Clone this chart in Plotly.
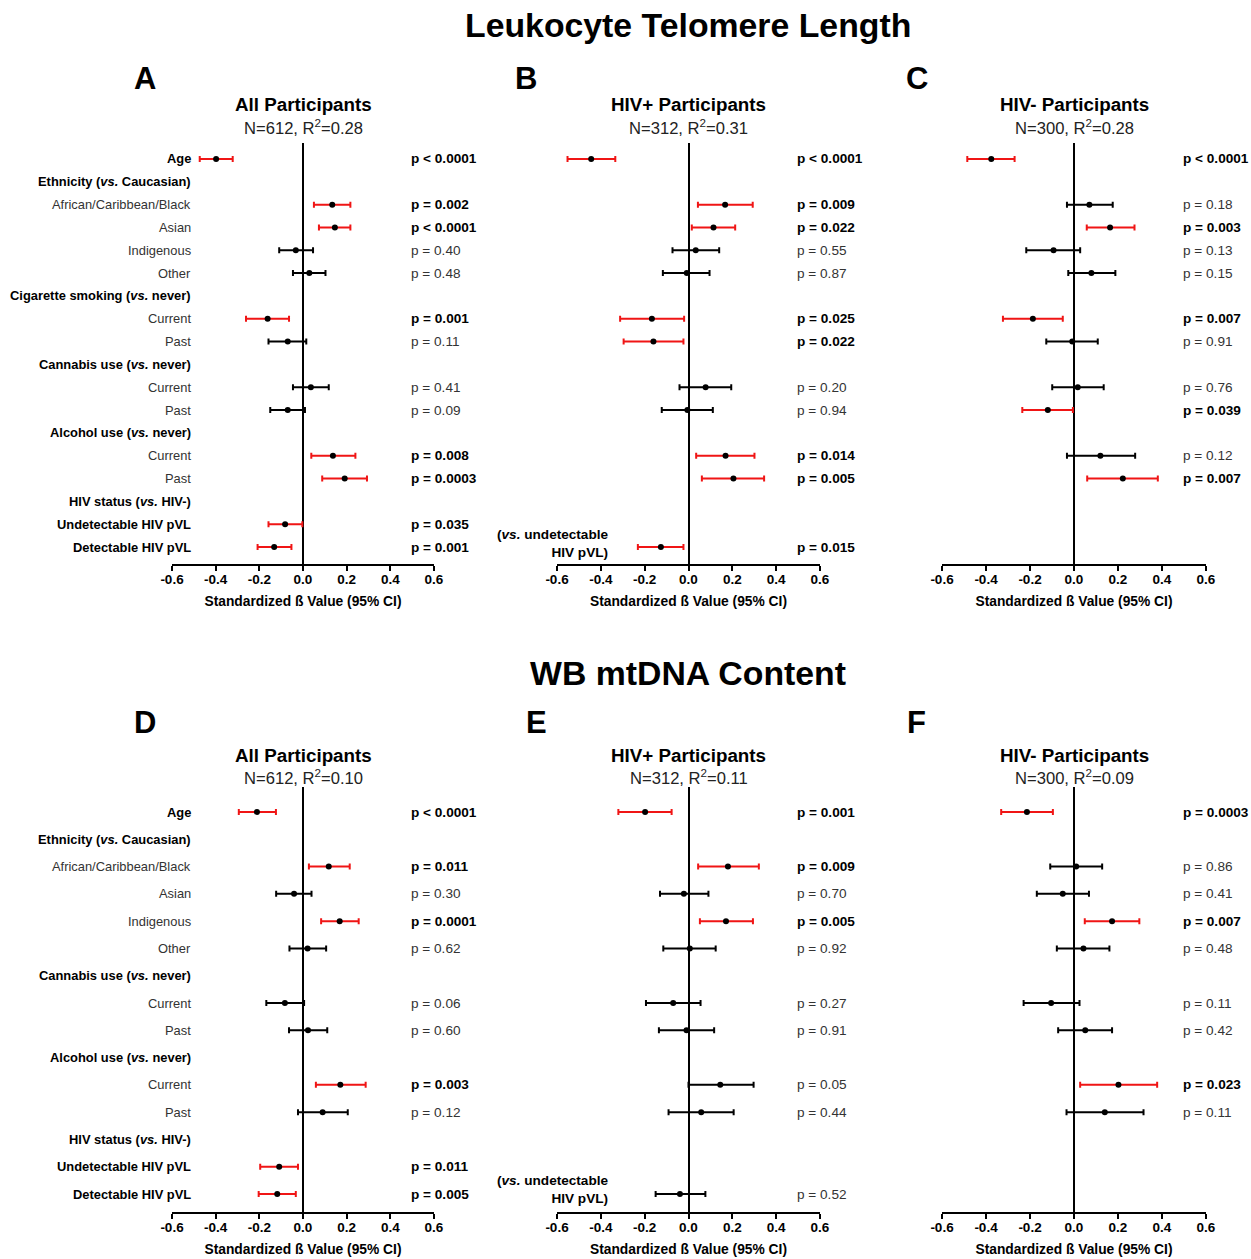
import plotly.graph_objects as go

FONT = "Liberation Sans, Arial, sans-serif"
W, H = 1251, 1259

# ---------------- Row labels ----------------
TOP_LABELS = ["Age", "Ethnicity (<i>vs.</i> Caucasian)", "African/Caribbean/Black", "Asian", "Indigenous", "Other",
              "Cigarette smoking (<i>vs.</i> never)", "Current", "Past",
              "Cannabis use (<i>vs.</i> never)", "Current", "Past",
              "Alcohol use (<i>vs.</i> never)", "Current", "Past",
              "HIV status (<i>vs.</i> HIV-)", "Undetectable HIV pVL", "Detectable HIV pVL"]
TOP_BOLD = [1, 1, 0, 0, 0, 0, 1, 0, 0, 1, 0, 0, 1, 0, 0, 1, 1, 1]

BOT_LABELS = ["Age", "Ethnicity (<i>vs.</i> Caucasian)", "African/Caribbean/Black", "Asian", "Indigenous", "Other",
              "Cannabis use (<i>vs.</i> never)", "Current", "Past",
              "Alcohol use (<i>vs.</i> never)", "Current", "Past",
              "HIV status (<i>vs.</i> HIV-)", "Undetectable HIV pVL", "Detectable HIV pVL"]
BOT_BOLD = [1, 1, 0, 0, 0, 0, 1, 0, 0, 1, 0, 0, 1, 1, 1]

# ---------------- Panel A : LTL, all participants ----------------
A_rows = [0, 2, 3, 4, 5, 7, 8, 10, 11, 13, 14, 16, 17]
A_beta = [-0.398, 0.134, 0.146, -0.033, 0.029, -0.162, -0.070, 0.036, -0.070, 0.137, 0.191, -0.082, -0.132]
A_lo = [-0.473, 0.050, 0.073, -0.109, -0.046, -0.261, -0.158, -0.046, -0.150, 0.038, 0.088, -0.158, -0.208]
A_hi = [-0.322, 0.217, 0.217, 0.046, 0.103, -0.064, 0.015, 0.118, 0.009, 0.240, 0.293, -0.003, -0.053]
A_p = ["p < 0.0001", "p = 0.002", "p < 0.0001", "p = 0.40", "p = 0.48", "p = 0.001", "p = 0.11",
       "p = 0.41", "p = 0.09", "p = 0.008", "p = 0.0003", "p = 0.035", "p = 0.001"]
A_sig = [1, 1, 1, 0, 0, 1, 0, 0, 0, 1, 1, 1, 1]

# ---------------- Panel B : LTL, HIV+ ----------------
B_rows = [0, 2, 3, 4, 5, 7, 8, 10, 11, 13, 14, 17]
B_beta = [-0.444, 0.167, 0.114, 0.033, -0.008, -0.167, -0.160, 0.078, -0.005, 0.169, 0.205, -0.126]
B_lo = [-0.552, 0.043, 0.015, -0.073, -0.117, -0.312, -0.296, -0.041, -0.122, 0.035, 0.061, -0.231]
B_hi = [-0.334, 0.293, 0.213, 0.140, 0.096, -0.020, -0.023, 0.195, 0.111, 0.301, 0.345, -0.023]
B_p = ["p < 0.0001", "p = 0.009", "p = 0.022", "p = 0.55", "p = 0.87", "p = 0.025", "p = 0.022",
       "p = 0.20", "p = 0.94", "p = 0.014", "p = 0.005", "p = 0.015"]
B_sig = [1, 1, 1, 0, 0, 1, 1, 0, 0, 1, 1, 1]

# ---------------- Panel C : LTL, HIV- ----------------
C_rows = [0, 2, 3, 4, 5, 7, 8, 10, 11, 13, 14]
C_beta = [-0.376, 0.070, 0.164, -0.093, 0.079, -0.187, -0.008, 0.017, -0.119, 0.120, 0.222]
C_lo = [-0.485, -0.032, 0.058, -0.217, -0.026, -0.323, -0.126, -0.099, -0.235, -0.032, 0.060]
C_hi = [-0.270, 0.176, 0.275, 0.028, 0.188, -0.051, 0.108, 0.135, -0.005, 0.278, 0.381]
C_p = ["p < 0.0001", "p = 0.18", "p = 0.003", "p = 0.13", "p = 0.15", "p = 0.007", "p = 0.91",
       "p = 0.76", "p = 0.039", "p = 0.12", "p = 0.007"]
C_sig = [1, 0, 1, 0, 0, 1, 0, 0, 1, 0, 1]

# ---------------- Panel D : mtDNA, all participants ----------------
D_rows = [0, 2, 3, 4, 5, 7, 8, 10, 11, 13, 14]
D_beta = [-0.211, 0.118, -0.041, 0.168, 0.021, -0.083, 0.023, 0.171, 0.090, -0.109, -0.118]
D_lo = [-0.294, 0.027, -0.123, 0.083, -0.062, -0.168, -0.064, 0.059, -0.023, -0.196, -0.203]
D_hi = [-0.124, 0.214, 0.039, 0.255, 0.106, 0.005, 0.111, 0.287, 0.205, -0.023, -0.033]
D_p = ["p < 0.0001", "p = 0.011", "p = 0.30", "p = 0.0001", "p = 0.62", "p = 0.06", "p = 0.60",
       "p = 0.003", "p = 0.12", "p = 0.011", "p = 0.005"]
D_sig = [1, 1, 0, 1, 0, 0, 0, 1, 0, 1, 1]

# ---------------- Panel E : mtDNA, HIV+ ----------------
E_rows = [0, 2, 3, 4, 5, 7, 8, 10, 11, 14]
E_beta = [-0.198, 0.180, -0.021, 0.171, 0.006, -0.070, -0.009, 0.145, 0.058, -0.039]
E_lo = [-0.320, 0.044, -0.130, 0.052, -0.115, -0.194, -0.135, 0.000, -0.091, -0.150]
E_hi = [-0.077, 0.321, 0.091, 0.294, 0.124, 0.055, 0.117, 0.297, 0.206, 0.077]
E_p = ["p = 0.001", "p = 0.009", "p = 0.70", "p = 0.005", "p = 0.92", "p = 0.27", "p = 0.91",
       "p = 0.05", "p = 0.44", "p = 0.52"]
E_sig = [1, 1, 0, 1, 0, 0, 0, 0, 0, 0]

# ---------------- Panel F : mtDNA, HIV- ----------------
F_rows = [0, 2, 3, 4, 5, 7, 8, 10, 11]
F_beta = [-0.214, 0.010, -0.051, 0.173, 0.043, -0.104, 0.051, 0.202, 0.140]
F_lo = [-0.331, -0.108, -0.169, 0.049, -0.078, -0.229, -0.072, 0.028, -0.034]
F_hi = [-0.096, 0.128, 0.068, 0.297, 0.161, 0.025, 0.173, 0.378, 0.316]
F_p = ["p = 0.0003", "p = 0.86", "p = 0.41", "p = 0.007", "p = 0.48", "p = 0.11", "p = 0.42",
       "p = 0.023", "p = 0.11"]
F_sig = [1, 0, 0, 1, 0, 0, 0, 1, 0]

TICKS = [-0.6, -0.4, -0.2, 0.0, 0.2, 0.4, 0.6]
TICK_TEXT = ["-0.6", "-0.4", "-0.2", "0.0", "0.2", "0.4", "0.6"]

PANELS = [
    dict(ax="", letter="A", group="All Participants", stats="N=612, R<sup>2</sup>=0.28", top=True, labels=True,
         rows=A_rows, beta=A_beta, lo=A_lo, hi=A_hi, p=A_p, sig=A_sig, xpx=(172, 434)),
    dict(ax="2", letter="B", group="HIV+ Participants", stats="N=312, R<sup>2</sup>=0.31", top=True, labels=False,
         rows=B_rows, beta=B_beta, lo=B_lo, hi=B_hi, p=B_p, sig=B_sig, xpx=(557, 820)),
    dict(ax="3", letter="C", group="HIV- Participants", stats="N=300, R<sup>2</sup>=0.28", top=True, labels=False,
         rows=C_rows, beta=C_beta, lo=C_lo, hi=C_hi, p=C_p, sig=C_sig, xpx=(942, 1206)),
    dict(ax="4", letter="D", group="All Participants", stats="N=612, R<sup>2</sup>=0.10", top=False, labels=True,
         rows=D_rows, beta=D_beta, lo=D_lo, hi=D_hi, p=D_p, sig=D_sig, xpx=(172, 434)),
    dict(ax="5", letter="E", group="HIV+ Participants", stats="N=312, R<sup>2</sup>=0.11", top=False, labels=False,
         rows=E_rows, beta=E_beta, lo=E_lo, hi=E_hi, p=E_p, sig=E_sig, xpx=(557, 820)),
    dict(ax="6", letter="F", group="HIV- Participants", stats="N=300, R<sup>2</sup>=0.09", top=False, labels=False,
         rows=F_rows, beta=F_beta, lo=F_lo, hi=F_hi, p=F_p, sig=F_sig, xpx=(942, 1206)),
]

# pixel geometry per row of panels
TOP_GEOM = dict(ytop=143, ybot=564, first=159, last=547, n=18, title=105, stats=127, letter=78)
BOT_GEOM = dict(ytop=787, ybot=1212, first=812, last=1194, n=15, title=755, stats=777, letter=722)
LETTER_X = {"A": 145, "B": 526, "C": 917, "D": 145, "E": 536, "F": 916}


def py(p):
    return 1 - p / H


fig = go.Figure()
layout = dict(width=W, height=H, margin=dict(l=0, r=0, t=0, b=0), paper_bgcolor="white",
              plot_bgcolor="white", showlegend=False, font=dict(family=FONT, color="black"))
annotations = []

for P in PANELS:
    g = TOP_GEOM if P["top"] else BOT_GEOM
    step = (g["last"] - g["first"]) / (g["n"] - 1)
    y_min = -(g["first"] - g["ytop"]) / step
    y_max = (g["n"] - 1) + (g["ybot"] - g["last"]) / step
    xa, ya = "x" + P["ax"], "y" + P["ax"]
    xkey, ykey = "xaxis" + P["ax"], "yaxis" + P["ax"]

    layout[xkey] = dict(domain=[P["xpx"][0] / W, P["xpx"][1] / W], range=[-0.6, 0.6], anchor=ya,
                        tickvals=TICKS, ticktext=TICK_TEXT, ticks="outside", ticklen=5, tickwidth=2,
                        tickcolor="black", showline=True, linecolor="black", linewidth=2, showgrid=False,
                        zeroline=True, zerolinecolor="black", zerolinewidth=1.6, automargin=False,
                        ticklabelstandoff=-3,
                        tickfont=dict(family=FONT, size=13.5, color="black", weight="bold"),
                        title=dict(text="Standardized ß Value (95% CI)", standoff=10,
                                   font=dict(family=FONT, size=13.8, color="black", weight="bold")),
                        fixedrange=True)
    layout[ykey] = dict(domain=[py(g["ybot"]), py(g["ytop"])], range=[y_max, y_min], anchor=xa,
                        visible=False, showgrid=False, zeroline=False, fixedrange=True)

    for flag, col in ((0, "black"), (1, "#f01515")):
        idx = [i for i, s in enumerate(P["sig"]) if s == flag]
        if not idx:
            continue
        xs = [P["beta"][i] for i in idx]
        ys = [P["rows"][i] for i in idx]
        plus = [P["hi"][i] - P["beta"][i] for i in idx]
        minus = [P["beta"][i] - P["lo"][i] for i in idx]
        fig.add_trace(go.Scatter(x=xs, y=ys, xaxis=xa, yaxis=ya, mode="markers",
                                 marker=dict(color="black", size=6),
                                 error_x=dict(type="data", symmetric=False, array=plus, arrayminus=minus,
                                              color=col, thickness=2, width=3),
                                 hoverinfo="skip", cliponaxis=False))

    # p-value texts
    for i, r in enumerate(P["rows"]):
        txt = P["p"][i]
        bold = P["sig"][i] == 1
        annotations.append(dict(x=0.487, y=r, xref=xa, yref=ya, xanchor="left", yanchor="middle",
                                text=("<b>%s</b>" % txt) if bold else txt, showarrow=False,
                                font=dict(family=FONT, size=13.6, color="black" if bold else "#333333")))

    # row labels (left panels only)
    if P["labels"]:
        labs = TOP_LABELS if P["top"] else BOT_LABELS
        bolds = TOP_BOLD if P["top"] else BOT_BOLD
        for r, (lab, b) in enumerate(zip(labs, bolds)):
            annotations.append(dict(x=-0.503, y=r, xref=xa, yref=ya, xanchor="right", yanchor="middle",
                                    text=("<b>%s</b>" % lab) if b else lab, showarrow=False,
                                    font=dict(family=FONT, size=12.9, color="black" if b else "#333333")))
    elif P["letter"] in ("B", "E"):
        last_row = g["n"] - 1
        annotations.append(dict(x=-0.355, y=last_row - 0.15, xref=xa, yref=ya, xanchor="right",
                                yanchor="middle", align="right",
                                text="<b>(<i>vs.</i> undetectable<br>HIV pVL)</b>", showarrow=False,
                                font=dict(family=FONT, size=13.6, color="black")))

    # panel titles
    cx = (P["xpx"][0] + P["xpx"][1]) / 2 / W
    annotations.append(dict(x=cx, y=py(g["title"]), xref="paper", yref="paper", xanchor="center",
                            yanchor="middle", text="<b>%s</b>" % P["group"], showarrow=False,
                            font=dict(family=FONT, size=18.8, color="black")))
    annotations.append(dict(x=cx, y=py(g["stats"]), xref="paper", yref="paper", xanchor="center",
                            yanchor="middle", text=P["stats"], showarrow=False,
                            font=dict(family=FONT, size=16.6, color="#222222")))
    annotations.append(dict(x=LETTER_X[P["letter"]] / W, y=py(g["letter"]), xref="paper", yref="paper",
                            xanchor="center", yanchor="middle", text="<b>%s</b>" % P["letter"],
                            showarrow=False, font=dict(family=FONT, size=31, color="black")))

# main titles
annotations.append(dict(x=688 / W, y=py(25), xref="paper", yref="paper", xanchor="center", yanchor="middle",
                        text="<b>Leukocyte Telomere Length</b>", showarrow=False,
                        font=dict(family=FONT, size=33.8, color="black")))
annotations.append(dict(x=688 / W, y=py(673), xref="paper", yref="paper", xanchor="center", yanchor="middle",
                        text="<b>WB mtDNA Content</b>", showarrow=False,
                        font=dict(family=FONT, size=33.8, color="black")))

layout["annotations"] = annotations
fig.update_layout(**layout)
fig.write_html("out.html")
